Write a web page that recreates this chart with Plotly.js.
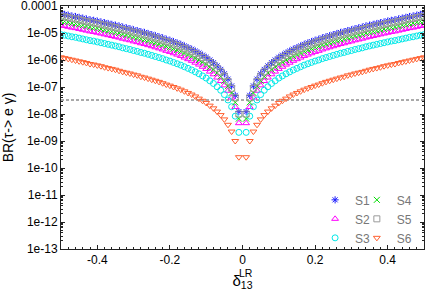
<!DOCTYPE html>
<html><head><meta charset="utf-8">
<script src="https://cdn.plot.ly/plotly-3.0.1.min.js"></script>
<style>html,body{margin:0;padding:0;background:#fff}#chart{width:425px;height:291px}</style>
</head><body><div id="chart"></div><script>
// delta_13^LR sample points
const delta = [-0.50,-0.49,-0.48,-0.47,-0.46,-0.45,-0.44,-0.43,-0.42,-0.41,-0.40,-0.39,-0.38,-0.37,-0.36,-0.35,-0.34,-0.33,-0.32,-0.31,-0.30,-0.29,-0.28,-0.27,-0.26,-0.25,-0.24,-0.23,-0.22,-0.21,-0.20,-0.19,-0.18,-0.17,-0.16,-0.15,-0.14,-0.13,-0.12,-0.11,-0.10,-0.09,-0.08,-0.07,-0.06,-0.05,-0.04,-0.03,-0.02,-0.01,
0.01,0.02,0.03,0.04,0.05,0.06,0.07,0.08,0.09,0.10,0.11,0.12,0.13,0.14,0.15,0.16,0.17,0.18,0.19,0.20,0.21,0.22,0.23,0.24,0.25,0.26,0.27,0.28,0.29,0.30,0.31,0.32,0.33,0.34,0.35,0.36,0.37,0.38,0.39,0.40,0.41,0.42,0.43,0.44,0.45,0.46,0.47,0.48,0.49,0.50];

// log10 BR(tau -> e gamma)
const logBR_S1 = [-4.29,-4.31,-4.34,-4.37,-4.39,-4.42,-4.45,-4.48,-4.51,-4.53,-4.56,-4.59,-4.62,-4.65,-4.68,-4.71,-4.74,-4.78,-4.81,-4.84,-4.88,-4.91,-4.95,-4.98,-5.02,-5.06,-5.10,-5.14,-5.18,-5.23,-5.27,-5.32,-5.37,-5.42,-5.48,-5.54,-5.60,-5.67,-5.74,-5.82,-5.90,-6.00,-6.10,-6.22,-6.35,-6.51,-6.71,-6.96,-7.31,-7.91,
-7.91,-7.31,-6.96,-6.71,-6.51,-6.35,-6.22,-6.10,-6.00,-5.90,-5.82,-5.74,-5.67,-5.60,-5.54,-5.48,-5.42,-5.37,-5.32,-5.27,-5.23,-5.18,-5.14,-5.10,-5.06,-5.02,-4.98,-4.95,-4.91,-4.88,-4.84,-4.81,-4.78,-4.74,-4.71,-4.68,-4.65,-4.62,-4.59,-4.56,-4.53,-4.51,-4.48,-4.45,-4.42,-4.39,-4.37,-4.34,-4.31,-4.29];
const logBR_S2 = [-4.72,-4.74,-4.77,-4.80,-4.82,-4.85,-4.88,-4.91,-4.94,-4.96,-4.99,-5.02,-5.05,-5.08,-5.11,-5.14,-5.17,-5.21,-5.24,-5.27,-5.31,-5.34,-5.38,-5.41,-5.45,-5.49,-5.53,-5.57,-5.61,-5.66,-5.70,-5.75,-5.80,-5.85,-5.91,-5.97,-6.03,-6.10,-6.17,-6.25,-6.33,-6.43,-6.53,-6.65,-6.78,-6.94,-7.14,-7.39,-7.74,-8.34,
-8.34,-7.74,-7.39,-7.14,-6.94,-6.78,-6.65,-6.53,-6.43,-6.33,-6.25,-6.17,-6.10,-6.03,-5.97,-5.91,-5.85,-5.80,-5.75,-5.70,-5.66,-5.61,-5.57,-5.53,-5.49,-5.45,-5.41,-5.38,-5.34,-5.31,-5.27,-5.24,-5.21,-5.17,-5.14,-5.11,-5.08,-5.05,-5.02,-4.99,-4.96,-4.94,-4.91,-4.88,-4.85,-4.82,-4.80,-4.77,-4.74,-4.72];
const logBR_S3 = [-5.06,-5.08,-5.11,-5.14,-5.16,-5.19,-5.22,-5.25,-5.28,-5.30,-5.33,-5.36,-5.39,-5.42,-5.45,-5.48,-5.51,-5.55,-5.58,-5.61,-5.65,-5.68,-5.72,-5.75,-5.79,-5.83,-5.87,-5.91,-5.95,-6.00,-6.04,-6.09,-6.14,-6.19,-6.25,-6.31,-6.37,-6.44,-6.51,-6.59,-6.67,-6.77,-6.87,-6.99,-7.12,-7.28,-7.48,-7.73,-8.08,-8.68,
-8.68,-8.08,-7.73,-7.48,-7.28,-7.12,-6.99,-6.87,-6.77,-6.67,-6.59,-6.51,-6.44,-6.37,-6.31,-6.25,-6.19,-6.14,-6.09,-6.04,-6.00,-5.95,-5.91,-5.87,-5.83,-5.79,-5.75,-5.72,-5.68,-5.65,-5.61,-5.58,-5.55,-5.51,-5.48,-5.45,-5.42,-5.39,-5.36,-5.33,-5.30,-5.28,-5.25,-5.22,-5.19,-5.16,-5.14,-5.11,-5.08,-5.06];
const logBR_S4 = [-4.55,-4.57,-4.60,-4.63,-4.65,-4.68,-4.71,-4.74,-4.77,-4.79,-4.82,-4.85,-4.88,-4.91,-4.94,-4.97,-5.00,-5.04,-5.07,-5.10,-5.14,-5.17,-5.21,-5.24,-5.28,-5.32,-5.36,-5.40,-5.44,-5.49,-5.53,-5.58,-5.63,-5.68,-5.74,-5.80,-5.86,-5.93,-6.00,-6.08,-6.16,-6.26,-6.36,-6.48,-6.61,-6.77,-6.97,-7.22,-7.57,-8.17,
-8.17,-7.57,-7.22,-6.97,-6.77,-6.61,-6.48,-6.36,-6.26,-6.16,-6.08,-6.00,-5.93,-5.86,-5.80,-5.74,-5.68,-5.63,-5.58,-5.53,-5.49,-5.44,-5.40,-5.36,-5.32,-5.28,-5.24,-5.21,-5.17,-5.14,-5.10,-5.07,-5.04,-5.00,-4.97,-4.94,-4.91,-4.88,-4.85,-4.82,-4.79,-4.77,-4.74,-4.71,-4.68,-4.65,-4.63,-4.60,-4.57,-4.55];
const logBR_S5 = [-4.38,-4.40,-4.43,-4.46,-4.48,-4.51,-4.54,-4.57,-4.60,-4.62,-4.65,-4.68,-4.71,-4.74,-4.77,-4.80,-4.83,-4.87,-4.90,-4.93,-4.97,-5.00,-5.04,-5.07,-5.11,-5.15,-5.19,-5.23,-5.27,-5.32,-5.36,-5.41,-5.46,-5.51,-5.57,-5.63,-5.69,-5.76,-5.83,-5.91,-5.99,-6.09,-6.19,-6.31,-6.44,-6.60,-6.80,-7.05,-7.40,-8.00,
-8.00,-7.40,-7.05,-6.80,-6.60,-6.44,-6.31,-6.19,-6.09,-5.99,-5.91,-5.83,-5.76,-5.69,-5.63,-5.57,-5.51,-5.46,-5.41,-5.36,-5.32,-5.27,-5.23,-5.19,-5.15,-5.11,-5.07,-5.04,-5.00,-4.97,-4.93,-4.90,-4.87,-4.83,-4.80,-4.77,-4.74,-4.71,-4.68,-4.65,-4.62,-4.60,-4.57,-4.54,-4.51,-4.48,-4.46,-4.43,-4.40,-4.38];
const logBR_S6 = [-5.90,-5.93,-5.96,-5.99,-6.02,-6.05,-6.08,-6.11,-6.15,-6.17,-6.20,-6.23,-6.27,-6.30,-6.33,-6.36,-6.40,-6.44,-6.47,-6.50,-6.54,-6.57,-6.62,-6.65,-6.69,-6.73,-6.77,-6.81,-6.86,-6.91,-6.95,-7.00,-7.05,-7.10,-7.16,-7.22,-7.28,-7.35,-7.43,-7.51,-7.59,-7.69,-7.79,-7.91,-8.04,-8.20,-8.40,-8.65,-9.00,-9.60,
-9.60,-9.00,-8.65,-8.40,-8.20,-8.04,-7.91,-7.79,-7.69,-7.59,-7.51,-7.43,-7.35,-7.28,-7.22,-7.16,-7.10,-7.05,-7.00,-6.95,-6.91,-6.86,-6.81,-6.77,-6.73,-6.69,-6.65,-6.62,-6.57,-6.54,-6.50,-6.47,-6.44,-6.40,-6.36,-6.33,-6.30,-6.27,-6.23,-6.20,-6.17,-6.15,-6.11,-6.08,-6.05,-6.02,-5.99,-5.96,-5.93,-5.90];

const seriesNames = ["S1","S2","S3","S4","S5","S6"];
const xTickVals = [-0.4,-0.2,0,0.2,0.4];
const xTickText = ["-0.4","-0.2","0","0.2","0.4"];
const yTickVals = [1e-4,1e-5,1e-6,1e-7,1e-8,1e-9,1e-10,1e-11,1e-12,1e-13];
const yTickText = ["0.0001","1e-05","1e-06","1e-07","1e-08","1e-09","1e-10","1e-11","1e-12","1e-13"];
const expLimit = 3.3e-8;   // experimental bound (dashed line)
const xRange = [-0.5, 0.5];

const seriesLog = [logBR_S1, logBR_S2, logBR_S3, logBR_S4, logBR_S5, logBR_S6];
const styles = [
  {symbol:'asterisk-open', color:'#1f1fff', legend:'legend'},
  {symbol:'triangle-up-open', color:'#ff00ff', legend:'legend'},
  {symbol:'circle-open', color:'#00e8e8', legend:'legend'},
  {symbol:'x-thin-open', color:'#00dd00', legend:'legend2'},
  {symbol:'square-open', color:'#9a9a9a', legend:'legend2'},
  {symbol:'triangle-down-open', color:'#ff6030', legend:'legend2'}
];

const traces = [{
  x: xRange, y: [expLimit, expLimit], mode:'lines', showlegend:false, hoverinfo:'skip',
  line:{color:'#555555', width:1, dash:'3px,2px'}
}];
seriesNames.forEach((name, i) => {
  traces.push({
    x: delta, y: seriesLog[i].map(v => Math.pow(10, v)),
    name: name, mode:'markers', legend: styles[i].legend,
    marker:{symbol: styles[i].symbol, size:6, color: styles[i].color, line:{color: styles[i].color, width:1}}
  });
});

const font = {family:'"Liberation Sans", Arial, Helvetica, sans-serif', size:12, color:'#000'};
const axisCommon = {
  showline:true, linecolor:'#222', linewidth:1, mirror:'allticks',
  ticks:'inside', ticklen:4, tickcolor:'#222', showgrid:false, zeroline:false,
  tickfont:{size:12}, ticklabeloverflow:'allow'
};
const layout = {
  width:425, height:291, margin:{l:61, r:1, t:6, b:42},
  paper_bgcolor:'#fff', plot_bgcolor:'#fff', font: font,
  xaxis: Object.assign({}, axisCommon, {
    range: xRange, tickmode:'array', tickvals:xTickVals, ticktext:xTickText,
    minor:{dtick:0.02, ticks:'inside', ticklen:2, tickcolor:'#222'},
    title:{text:'δ<sub>13</sub>', font:{size:15}, standoff:11}
  }),
  yaxis: Object.assign({}, axisCommon, {
    type:'log', range:[-13,-4], tickmode:'array', tickvals:yTickVals, ticktext:yTickText,
    minor:{tickmode:'linear', dtick:'D1', ticks:'inside', ticklen:2, tickcolor:'#222'},
    title:{text:'BR(τ-> e γ)', font:{size:14}, standoff:6}
  }),
  annotations:[{text:'LR', xref:'paper', yref:'paper', x:0.511, y:-0.10, showarrow:false,
    xanchor:'center', yanchor:'middle', font:{size:10.5}}],
  legend:{x:0.70, y:0.262, xanchor:'left', yanchor:'top', bgcolor:'rgba(0,0,0,0)', font:{size:12, color:'#777'}, itemwidth:30},
  legend2:{x:0.815, y:0.262, xanchor:'left', yanchor:'top', bgcolor:'rgba(0,0,0,0)', font:{size:12, color:'#777'}, itemwidth:30},
  showlegend:true
};
Plotly.newPlot('chart', traces, layout, {staticPlot:true, displayModeBar:false});
</script></body></html>
